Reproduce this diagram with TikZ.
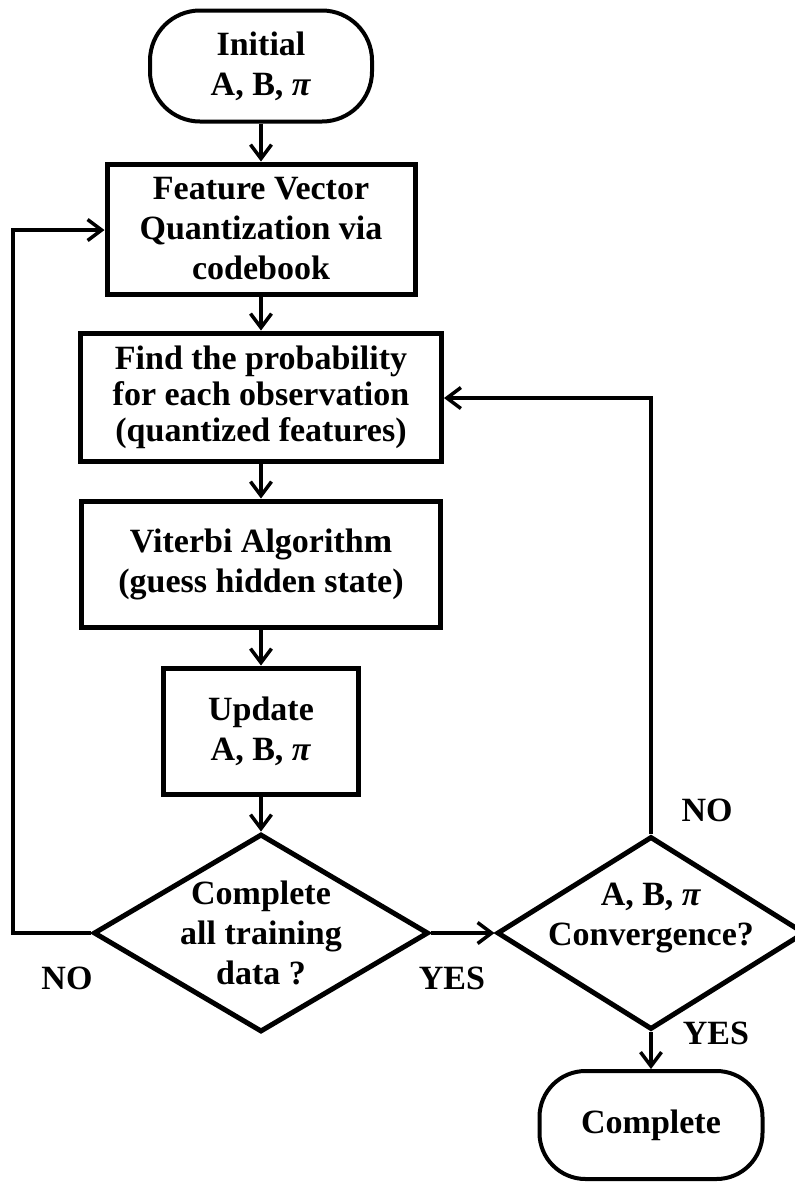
\documentclass[tikz,border=0pt]{standalone}
\usepackage{fontspec}
\setmainfont{Liberation Serif}
\usetikzlibrary{shapes.geometric,arrows.meta}
\tikzset{
  boxtext/.style={font=\bfseries\fontsize{34}{40}\selectfont, align=center},
  process/.style={boxtext, draw, line width=5pt, inner sep=0pt},
  terminal/.style={boxtext, draw, line width=4pt, rounded corners=50pt, inner sep=0pt},
  decision/.style={draw, diamond, line width=5pt, inner sep=0pt},
  flow/.style={line width=3.5pt, -{Straight Barb[length=14pt,width=21pt]}},
  tag/.style={font=\bfseries\fontsize{34}{40}\selectfont}
}
\begin{document}
\begin{tikzpicture}[x=1pt,y=-1pt]
  \useasboundingbox (0,0) rectangle (795,1184);
  % main column
  \node[terminal, minimum width=222pt, minimum height=111pt] (init) at (261,66) {Initial\\A, B, \textit{π}};
  \node[process, minimum width=308pt, minimum height=130pt] (feat) at (261,229) {Feature Vector\\Quantization via\\codebook};
  \node[process, minimum width=361pt, minimum height=128pt, font=\bfseries\fontsize{34}{36}\selectfont] (prob) at (261,397) {Find the probability\\for each observation\\(quantized features)};
  \node[process, minimum width=359pt, minimum height=126pt] (vit) at (261,564) {Viterbi Algorithm\\(guess hidden state)};
  \node[process, minimum width=195pt, minimum height=126pt] (upd) at (261,731) {Update\\A, B, \textit{π}};
  \node[decision, minimum width=335pt, minimum height=198pt,
        label={[boxtext]center:{Complete\\all training\\data ?}}] (d1) at (261,933) {};
  % right column
  \node[decision, minimum width=308pt, minimum height=193pt,
        label={[boxtext,yshift=15pt]center:{A, B, \textit{π}\\Convergence?}}] (d2) at (651,933) {};
  \node[terminal, minimum width=223pt, minimum height=108pt, rounded corners=46pt] (done) at (651,1125) {Complete};
  % answers
  \node[tag] (no1) at (67,978) {NO};
  \node[tag] (yes1) at (452,978) {YES};
  \node[tag] (no2) at (707,810) {NO};
  \node[tag] (yes2) at (716,1033) {YES};
  % connectors
  \coordinate (loopL) at (13,230);
  \coordinate (loopR) at (651,398);
  \draw[flow] (init) -- (feat);
  \draw[flow] (feat) -- (prob);
  \draw[flow] (prob) -- (vit);
  \draw[flow] (vit) -- (upd);
  \draw[flow] (upd) -- (d1);
  \draw[flow] (d1) -- (d2);
  \draw[flow] (d2) -- (done);
  \draw[flow] (d1.west) -| (loopL) -- (feat.west |- loopL);
  \draw[flow] (d2.north) -- (loopR) -- (prob.east |- loopR);
\end{tikzpicture}
\end{document}
